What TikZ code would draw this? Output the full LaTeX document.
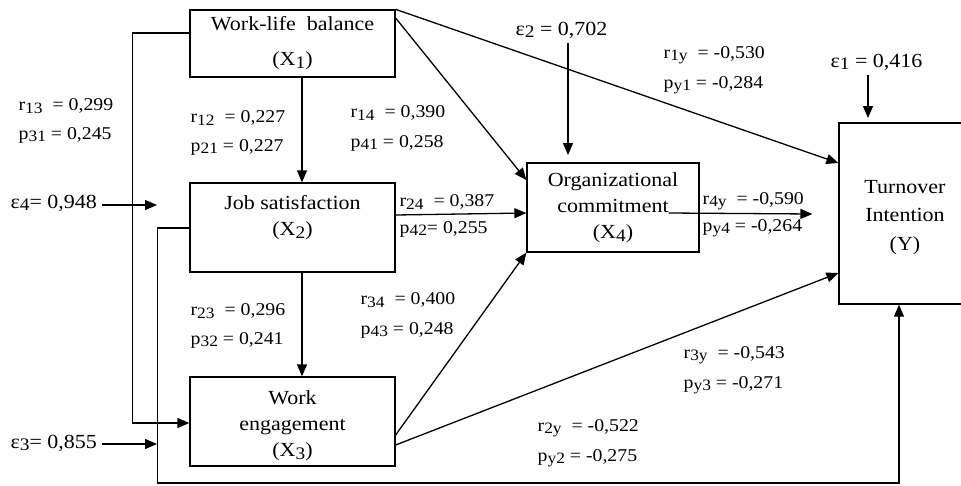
\documentclass[tikz,border=0pt]{standalone}
\usepackage{graphicx}
\usepackage{fontspec}
\setmainfont[FakeStretch=1.1]{Liberation Serif}
\usetikzlibrary{arrows.meta, positioning}

\newcommand{\lsub}[1]{\raisebox{-0.3ex}{\scalebox{0.88}{#1}}}

\begin{document}
\begin{tikzpicture}[x = 1pt, y = -1pt, line width = 1.3pt,
  >={Triangle[length = 12pt, width = 10pt]},
  varbox/.style = {draw, align = center, inner sep = 2pt,
    font = \fontsize{20}{26}\selectfont},
  boxtext/.style = {align = center, font = \fontsize{20}{26}\selectfont},
  coef/.style = {anchor = west, inner sep = 0pt, font = \fontsize{18}{19}\selectfont},
  eps/.style = {anchor = west, inner sep = 4pt, font = \fontsize{20}{22}\selectfont}]

\useasboundingbox (0, 0) rectangle (961, 485);

% variables
\node[varbox, minimum width = 205pt, minimum height = 67pt] (x1) at (292.5, 43.5)
  {Work-life~~balance\\[9pt](X\lsub{1})};
\node[varbox, minimum width = 205pt, minimum height = 89pt,
  label = {[boxtext, yshift = 10pt]center:{Job satisfaction\\(X\lsub{2})}}] (x2) at (292.5, 227.5) {};
\node[varbox, minimum width = 205pt, minimum height = 89pt] (x3) at (292.5, 421.5)
  {\\[-4pt]Work\\engagement\\(X\lsub{3})};
\node[varbox, minimum width = 172pt, minimum height = 89pt] (x4) at (613, 207.5)
  {Organizational\\commitment\\(X\lsub{4})};
\node[varbox, minimum width = 132pt, minimum height = 181pt,
  label = {[boxtext, yshift = -4pt]center:{Turnover\\[2pt]Intention\\[3pt](Y)}}] (y) at (905, 213.5) {};

% residuals
\node[eps] (e4) at (6, 203) {ε\lsub{4}= 0,948};
\node[eps] (e3) at (6, 443) {ε\lsub{3}= 0,855};
\node[eps] (e2) at (511, 30) {ε\lsub{2} = 0,702};
\node[eps] (e1) at (826, 62) {ε\lsub{1} = 0,416};
\coordinate (e4tip) at (157, 205);
\coordinate (e3tip) at (157, 444);
\coordinate (e2tip) at (568, 155);
\coordinate (e1tip) at (868, 118);
\coordinate (ybot) at (899, 483);

\draw[->] (e4.east |- e4tip) -- (e4tip);
\draw[->] (e3.east |- e3tip) -- (e3tip);
\draw[->] (e2tip |- e2.south) -- (e2tip);
\draw[->] (e1tip |- e1.south) -- (e1tip);

% paths
\draw[->] ([xshift = 9.5pt]x1.south) -- ([xshift = 9.5pt]x2.north);
\draw[->] ([xshift = 9.5pt]x2.south) -- ([xshift = 9.5pt]x3.north);
\draw[->] ([yshift = 10.5pt]x1.west) -- ++(-57, 0) |- ([yshift = -1.5pt]x3.west);
\draw[->] ([yshift = -0.5pt]x2.west) -- ++(-32, 0) |- (ybot) -- (ybot |- y.south);
\draw[->] (x1.north east) -- ([yshift = 50.5pt]y.west);
\draw[->] ([yshift = 25.5pt]x1.east) -- ([yshift = 27.5pt]x4.west);
\draw[->] ([yshift = 12.5pt]x2.east) -- ([yshift = -5.5pt]x4.west);
\draw[->] ([yshift = -13.5pt]x3.east) -- (x4.south west);
\draw[->] ([yshift = -23.5pt]x3.east) -- ([yshift = -59.5pt]y.west);
\draw[->] ([xshift = -31pt, yshift = -5.5pt]x4.east) -- ([xshift = -26pt, yshift = -0.5pt]y.west);

% coefficients
\node[coef] (r13) at (18, 106) {r\lsub{13}~~= 0,299};
\node[coef] (p31) at (18, 135) {p\lsub{31} = 0,245};
\node[coef] (r12) at (190, 118) {r\lsub{12}~~= 0,227};
\node[coef] (p21) at (190, 147) {p\lsub{21} = 0,227};
\node[coef] (r14) at (350, 113) {r\lsub{14}~~= 0,390};
\node[coef] (p41) at (350, 143) {p\lsub{41} = 0,258};
\node[coef] (r24) at (399, 202) {r\lsub{24}~~= 0,387};
\node[coef] (p42) at (399, 229) {p\lsub{42}= 0,255};
\node[coef] (r23) at (190, 311) {r\lsub{23}~~= 0,296};
\node[coef] (p32) at (190, 340) {p\lsub{32} = 0,241};
\node[coef] (r34) at (360, 300) {r\lsub{34}~~= 0,400};
\node[coef] (p43) at (360, 330) {p\lsub{43} = 0,248};
\node[coef] (r1y) at (663, 55) {r\lsub{1y}~~= -0,530};
\node[coef] (py1) at (663, 85) {p\lsub{y1} = -0,284};
\node[coef] (r4y) at (702, 201) {r\lsub{4y}~~= -0,590};
\node[coef] (py4) at (702, 228) {p\lsub{y4} = -0,264};
\node[coef] (r3y) at (683, 355) {r\lsub{3y}~~= -0,543};
\node[coef] (py3) at (683, 385) {p\lsub{y3} = -0,271};
\node[coef] (r2y) at (537, 428) {r\lsub{2y}~~= -0,522};
\node[coef] (py2) at (537, 458) {p\lsub{y2} = -0,275};

\end{tikzpicture}
\end{document}
